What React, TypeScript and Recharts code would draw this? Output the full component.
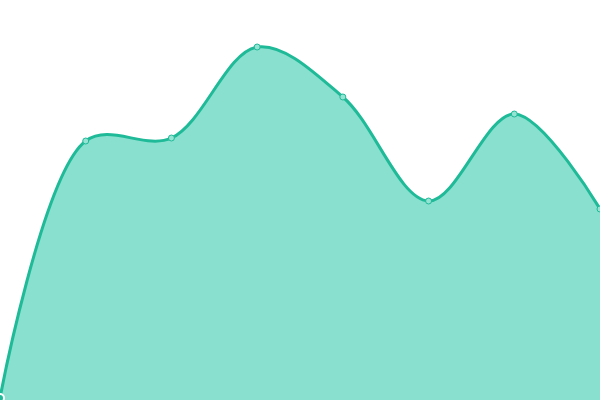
import React from 'react';
import { AreaChart, Area, XAxis, YAxis } from 'recharts';

const categories = ['A', 'B', 'C', 'D', 'E', 'F', 'G', 'H'];
const values = [2, 259, 262, 353, 303, 199, 286, 191];

const data = categories.map((name, i) => ({ name, value: values[i] }));

// centripetal catmull-rom (alpha 0.5), same maths as d3's curveCatmullRom
function bez(c: any, x: number, y: number) {
    let x1 = c._x1, y1 = c._y1, x2 = c._x2, y2 = c._y2;
    if (c._l01_a > 1e-12) {
        const a = 2 * c._l01_2a + 3 * c._l01_a * c._l12_a + c._l12_2a;
        const n = 3 * c._l01_a * (c._l01_a + c._l12_a);
        x1 = (x1 * a - c._x0 * c._l12_2a + c._x2 * c._l01_2a) / n;
        y1 = (y1 * a - c._y0 * c._l12_2a + c._y2 * c._l01_2a) / n;
    }
    if (c._l23_a > 1e-12) {
        const b = 2 * c._l23_2a + 3 * c._l23_a * c._l12_a + c._l12_2a;
        const m = 3 * c._l23_a * (c._l23_a + c._l12_a);
        x2 = (x2 * b + c._x1 * c._l23_2a - x * c._l12_2a) / m;
        y2 = (y2 * b + c._y1 * c._l23_2a - y * c._l12_2a) / m;
    }
    c._context.bezierCurveTo(x1, y1, x2, y2, c._x2, c._y2);
}

class CatmullRom {
    _context: any; _alpha = 0.5; _line: number = NaN; _point = 0;
    _x0 = NaN; _x1 = NaN; _x2 = NaN; _y0 = NaN; _y1 = NaN; _y2 = NaN;
    _l01_a = 0; _l12_a = 0; _l23_a = 0; _l01_2a = 0; _l12_2a = 0; _l23_2a = 0;
    constructor(context: any) { this._context = context; }
    areaStart() { this._line = 0; }
    areaEnd() { this._line = NaN; }
    lineStart() {
        this._x0 = this._x1 = this._x2 = this._y0 = this._y1 = this._y2 = NaN;
        this._l01_a = this._l12_a = this._l23_a = this._l01_2a = this._l12_2a = this._l23_2a = this._point = 0;
    }
    lineEnd() {
        switch (this._point) {
            case 2: this._context.lineTo(this._x2, this._y2); break;
            case 3: this.point(this._x2, this._y2); break;
        }
        if (this._line || (this._line !== 0 && this._point === 1)) this._context.closePath();
        this._line = 1 - this._line;
    }
    point(x: number, y: number) {
        x = +x; y = +y;
        if (this._point) {
            const x23 = this._x2 - x, y23 = this._y2 - y;
            this._l23_a = Math.sqrt(this._l23_2a = Math.pow(x23 * x23 + y23 * y23, this._alpha));
        }
        switch (this._point) {
            case 0: this._point = 1; this._line ? this._context.lineTo(x, y) : this._context.moveTo(x, y); break;
            case 1: this._point = 2; break;
            case 2: this._point = 3; bez(this, x, y); break;
            default: bez(this, x, y); break;
        }
        this._l01_a = this._l12_a; this._l12_a = this._l23_a;
        this._l01_2a = this._l12_2a; this._l12_2a = this._l23_2a;
        this._x0 = this._x1; this._x1 = this._x2; this._x2 = x;
        this._y0 = this._y1; this._y1 = this._y2; this._y2 = y;
    }
}

const catmullRom = (context: any) => new CatmullRom(context);

export default function App() {
    return (
        <div style={{ position: 'absolute', top: 0, left: 0, width: 600, height: 400, background: '#fff' }}>
            <AreaChart width={600} height={400} data={data} margin={{ top: 0, right: 0, bottom: 0, left: 0 }}>
                <XAxis dataKey="name" hide />
                <YAxis hide domain={[0, 400]} />
                <Area
                    type={catmullRom as any}
                    dataKey="value"
                    stroke="#1fba98"
                    strokeWidth={3}
                    fill="#89e0cf"
                    fillOpacity={1}
                    dot={{ r: 3, fill: '#94e3d3', stroke: '#1fba98', strokeWidth: 1 }}
                    isAnimationActive={false}
                />
            </AreaChart>
        </div>
    );
}
